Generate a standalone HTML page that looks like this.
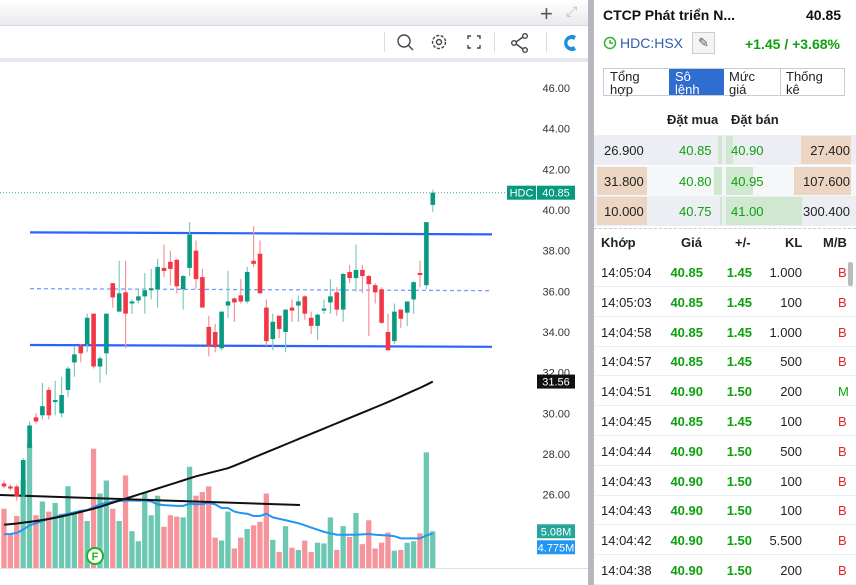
<!DOCTYPE html>
<html><head><meta charset="utf-8">
<style>
*{margin:0;padding:0;box-sizing:border-box}
body{width:856px;height:585px;overflow:hidden;background:#fff;font-family:"Liberation Sans","Noto Sans CJK SC",sans-serif;position:relative}
.a{position:absolute;white-space:nowrap}
.g{color:#0ea10e}
.r{color:#e0262b}
.b{font-weight:bold}
.row{position:absolute;left:594px;width:262px;height:30px;font-size:13px}
.row span{position:absolute;top:8px}
</style></head><body>
<div class="a" style="left:0;top:0;width:588px;height:25px;background:linear-gradient(#fff,#e9eaee)"></div>
<div class="a" style="left:540px;top:1px;font-size:22px;color:#555">+</div>
<div class="a" style="left:566px;top:3px;font-size:14px;color:#bbb">⤢</div>
<div class="a" style="left:0;top:25px;width:588px;height:33px;background:#fff;border-top:1px solid #d8d9de"></div>
<div class="a" style="left:0;top:58px;width:588px;height:4px;background:#e5e7ee"></div>
<div class="a" style="left:384px;top:32px;width:1px;height:20px;background:#ddd"></div>
<div class="a" style="left:494px;top:32px;width:1px;height:20px;background:#ddd"></div>
<div class="a" style="left:546px;top:32px;width:1px;height:20px;background:#ddd"></div>
<svg class="a" style="left:395px;top:31px" width="190" height="24">
<g fill="none" stroke="#444" stroke-width="1.4">
<g><circle cx="9" cy="10" r="6"/><line x1="13" y1="14" x2="18" y2="19"/></g>
<g><circle cx="44" cy="11" r="6.5" stroke-dasharray="3 1.6"/><circle cx="44" cy="11" r="2.5"/></g>
<g><path d="M73 8v-3h3M82 5h3v3M85 14v3h-3M76 17h-3v-3"/></g>
<g><circle cx="119" cy="12" r="2.3"/><circle cx="130" cy="5" r="2.3"/><circle cx="130" cy="19" r="2.3"/><path d="M121 11l7-5M121 13l7 5"/></g>
</g>
<path d="M181 5a8 8 0 1 0 0 14l-2-4a4 4 0 1 1 0-6z" fill="#1a8fe0"/>
</svg>
<div class="a" style="left:588px;top:0;width:6px;height:585px;background:#b5b8c0"></div>

<svg id="chart" class="a" style="left:0;top:62px" width="588" height="523"></svg>

<!-- right panel -->
<div class="a b" style="left:603px;top:7px;font-size:14px;color:#111">CTCP Phát triển N...</div>
<div class="a b" style="left:806px;top:7px;font-size:14px;color:#111">40.85</div>
<svg class="a" style="left:603px;top:36px" width="14" height="14"><circle cx="7" cy="7" r="5.5" fill="none" stroke="#2db52d" stroke-width="1.5"/><path d="M7 4v3h3" stroke="#2db52d" fill="none" stroke-width="1.4"/></svg>
<div class="a" style="left:620px;top:35px;font-size:14px;color:#2e5fae">HDC:HSX</div>
<div class="a" style="left:692px;top:32px;width:23px;height:22px;border:1px solid #ccc;background:#f4f4f4;text-align:center;font-size:13px;color:#555;line-height:20px">✎</div>
<div class="a b g" style="left:745px;top:36px;font-size:14px">+1.45 / +3.68%</div>
<div class="a" style="left:603px;top:68px;width:242px;height:28px;border:1px solid #c9ccd3;font-size:13px;line-height:13px">
<div class="a" style="left:0;top:0;width:65px;height:26px;padding:1px 0 0 6px;color:#222;white-space:normal">Tổng<br>hợp</div>
<div class="a" style="left:65px;top:0;width:55px;height:26px;padding:1px 0 0 6px;background:#2f6dd0;color:#fff">Sô<br>lệnh</div>
<div class="a" style="left:120px;top:0;width:57px;height:26px;padding:1px 0 0 5px;color:#222;border-right:1px solid #c9ccd3">Mức<br>giá</div>
<div class="a" style="left:177px;top:0;width:64px;height:26px;padding:1px 0 0 5px;color:#222">Thống<br>kê</div>
</div>
<div class="a b" style="left:667px;top:112px;font-size:13px;color:#222">Đặt mua</div>
<div class="a b" style="left:731px;top:112px;font-size:13px;color:#222">Đặt bán</div>
<div id="book"></div>
<div class="a" style="left:594px;top:228px;width:262px;border-top:1px dashed #ccc"></div>
<div class="row b" style="top:227px;color:#222"><span style="left:7px">Khớp</span><span style="left:87px">Giá</span><span style="left:141px">+/-</span><span style="left:191px">KL</span><span style="left:229px">M/B</span></div>
<div id="trades"></div>
<div class="a" style="left:848px;top:262px;width:5px;height:24px;background:#bbb;border-radius:2px"></div>

<script>
// ---- chart data ----
const opens  = [26.55,26.4,26.4,25.9,28.3,29.8,29.9,31.15,30.55,30.0,31.15,32.5,33.35,33.4,34.9,32.3,32.95,36.4,35.0,35.95,35.4,35.55,35.75,36.05,36.1,37.15,37.45,37.55,36.1,37.15,38.0,36.7,34.25,34.0,33.2,35.3,35.65,35.8,35.5,37.5,37.85,35.2,33.65,34.8,34.0,35.2,35.3,35.75,34.7,34.3,35.05,35.45,35.95,35.1,36.95,36.65,37.05,36.75,36.3,36.1,34.0,33.55,35.1,34.95,35.6,36.9,36.3,40.25];
const closes = [26.4,26.3,25.9,27.7,29.4,29.6,30.35,29.9,30.65,30.9,32.2,32.9,32.95,34.7,32.3,32.7,34.9,35.7,35.9,34.9,35.5,35.75,36.05,36.15,37.2,37.0,37.1,36.25,36.75,38.8,36.6,35.2,33.3,33.25,35.0,35.5,35.45,35.5,36.95,37.35,35.9,33.55,34.5,34.15,35.1,35.05,35.5,34.9,34.3,34.85,35.15,35.75,35.1,36.85,36.65,37.05,36.75,36.35,35.95,34.45,33.1,35.0,34.65,35.5,36.45,36.8,39.4,40.85];
const highs  = [26.7,26.5,26.5,27.8,29.6,30.0,31.5,31.3,31.6,31.8,32.3,33.3,33.4,34.9,34.9,32.8,34.9,36.4,37.5,37.5,35.6,36.1,36.9,37.1,37.6,38.3,38.0,37.6,36.8,39.4,38.5,37.1,34.8,34.4,35.0,37.0,35.7,36.6,37.2,39.2,38.5,35.6,34.9,34.8,35.1,35.6,35.8,35.8,35.0,34.9,35.6,36.6,36.2,36.9,37.3,38.3,37.3,36.8,36.4,36.2,34.9,35.4,35.1,35.5,36.5,37.5,39.4,41.0];
const lows   = [26.3,26.2,25.7,25.6,28.1,29.5,29.7,29.7,29.9,29.8,30.8,31.8,32.5,33.0,32.2,31.5,31.9,35.2,35.0,33.2,34.9,35.4,34.9,35.6,35.2,36.7,36.3,35.9,35.1,36.75,36.1,35.2,32.8,33.0,33.1,34.7,34.5,35.4,35.4,37.2,35.9,33.3,33.1,33.7,33.0,34.5,34.5,34.6,33.9,33.6,34.9,34.9,34.8,34.5,36.4,36.0,35.9,33.8,35.4,34.4,33.1,33.4,34.2,34.3,34.9,36.2,36.1,39.9];
const volumes = [8.2,4.7,7.2,12.1,17.3,7.3,9.2,7.8,9.0,7.5,11.3,7.5,7.8,6.5,16.5,10.3,12.1,8.2,6.5,12.8,5.1,3.7,10.5,7.3,10.0,5.7,7.3,7.1,7.0,14.0,10.0,10.5,11.3,4.2,3.8,7.8,2.7,4.2,5.4,5.9,6.4,10.3,3.9,2.2,5.8,2.8,2.5,3.8,2.2,3.5,3.4,7.0,2.5,5.8,4.3,7.6,3.3,6.6,2.7,3.5,4.9,2.4,2.5,3.5,3.7,4.8,16.0,5.08];
const volMA = [4.67,4.7,4.85,5.3,5.9,6.2,6.5,6.8,7.05,7.3,7.5,7.7,7.9,8.0,8.4,8.8,9.0,9.2,9.3,9.3,9.35,9.3,9.35,9.2,8.8,8.7,8.65,8.6,8.6,8.9,8.8,8.85,9.0,8.8,8.3,8.3,7.8,7.6,7.5,7.2,7.2,7.5,7.0,6.8,6.6,6.4,6.2,5.9,5.6,5.3,5.0,4.8,4.6,4.6,4.6,4.6,4.65,4.7,4.6,4.55,4.5,4.4,4.1,4.1,4.1,4.1,4.5,4.775];
const priceMA = [24.52,24.55,24.58,24.62,24.66,24.7,24.75,24.8,24.86,24.93,25.0,25.07,25.15,25.23,25.31,25.4,25.5,25.6,25.7,25.8,25.9,26.0,26.1,26.2,26.3,26.4,26.5,26.6,26.7,26.8,26.9,26.98,27.06,27.14,27.22,27.3,27.42,27.55,27.68,27.82,27.95,28.08,28.21,28.34,28.47,28.6,28.73,28.86,28.99,29.12,29.25,29.38,29.51,29.64,29.77,29.9,30.03,30.16,30.29,30.42,30.55,30.69,30.83,30.97,31.11,31.25,31.4,31.56];
const priceTicks = [46,44,42,40,38,36,34,32,30,28,26];
const channelTop = [38.9,38.8], channelMid=[36.13,36.03], channelBot=[33.36,33.27];
const trendLine = [25.98,25.49];
const lastPrice = 40.85, maLast = 31.56, volLast = 5.08, volMALast = 4.775;

const NS="http://www.w3.org/2000/svg", svg=document.getElementById('chart');
const OY=62;
const yP = p => 88 + (46-p)*20.33 - OY;
const xS = i => 4 + i*6.4;
const VB = 568 - OY, VK = 7.23; // px per M
const yV = v => VB - v*VK;
function mk(tag, attrs){const e=document.createElementNS(NS,tag);for(const k in attrs)e.setAttribute(k,attrs[k]);svg.appendChild(e);return e;}

// volume bars
volumes.forEach((v,i)=>{
  const up = closes[i]>=opens[i];
  const e=mk('rect',{x:xS(i)-2.7,y:yV(v),width:5.3,height:v*VK,fill:up?'#6cc8b3':'#f7939a'});
  
  
});
// volume MA
let d=volMA.map((v,i)=>(i?'L':'M')+xS(i)+' '+yV(v)).join('');
let vm=mk('path',{d:d,fill:'none',stroke:'#2196f3','stroke-width':2});


// price MA
d=priceMA.map((v,i)=>(i?'L':'M')+xS(i)+' '+yP(v)).join('');
let pm=mk('path',{d:d,fill:'none',stroke:'#111','stroke-width':2});


// trend line
let tl=mk('line',{x1:0,y1:yP(trendLine[0]),x2:300,y2:yP(trendLine[1]),stroke:'#111','stroke-width':2});


// channel
[[channelTop,'channel-top',''],[channelMid,'channel-mid','4 3'],[channelBot,'channel-bottom','']].forEach(c=>{
  const l=mk('line',{x1:30,y1:yP(c[0][0]),x2:492,y2:yP(c[0][1]),stroke:c[2]?'#7b9cff':'#2962ff','stroke-width':c[2]?1.3:2.2,'stroke-dasharray':c[2]});
  
  
});
// last price dotted line
let lp=mk('line',{x1:0,y1:yP(lastPrice),x2:505,y2:yP(lastPrice),stroke:'#3aa88c','stroke-width':1,'stroke-dasharray':'1 2'});


// candles
opens.forEach((o,i)=>{
  const c=closes[i], up=c>=o, col=up?'#089981':'#f23645', wc=up?'#7fcbb8':'#f7939a';
  const w=mk('line',{x1:xS(i),x2:xS(i),y1:yP(highs[i]),y2:yP(lows[i]),stroke:wc,'stroke-width':1.2});
  
  
  const top=yP(Math.max(o,c)), h=Math.max(1.5,Math.abs(yP(o)-yP(c)));
  const b=mk('rect',{x:xS(i)-2.3,y:top,width:4.6,height:h,fill:col});
  
  
});
// axis ticks
priceTicks.forEach(t=>{
  const e=mk('text',{x:570,y:yP(t)+4,'text-anchor':'end','font-size':11,fill:'#333','font-family':'Liberation Sans'});
  e.textContent=t.toFixed(2);
  
  
});
function tag(x,y,w,txt,bg,name){
  const r=mk('rect',{x:x,y:y-7,width:w,height:14,fill:bg});
  
  
  const t=mk('text',{x:x+w/2,y:y+4,'text-anchor':'middle','font-size':11,fill:'#fff','font-family':'Liberation Sans'});
  t.textContent=txt;
  
  
}
tag(507,yP(lastPrice),29,'HDC','#089981','symbol-tag');
tag(537,yP(lastPrice),38,lastPrice.toFixed(2),'#089981','last-price-tag');
tag(537,yP(maLast),38,maLast.toFixed(2),'#111','ma-value-tag');
tag(537,yV(volLast),38,volLast+'M','#26a69a','volume-tag');
tag(537,yV(volLast)+16,38,volMALast+'M','#2196f3','volume-ma-tag');
// F marker
let fc=mk('circle',{cx:95,cy:556-OY,r:8,fill:'#fff',stroke:'#22b522','stroke-width':2});


let ft=mk('text',{x:95,y:560-OY,'text-anchor':'middle','font-size':11,'font-weight':'bold',fill:'#22b522','font-family':'Liberation Sans'});
ft.textContent='F';


let bl=mk('line',{x1:0,x2:588,y1:VB+0.5,y2:VB+0.5,stroke:'#dde0e8'});



// ---- order book ----
const book=[
 ['26.900','40.85','40.90','27.400',0,4,7,50],
 ['31.800','40.80','40.95','107.600',50,8,27,57],
 ['10.000','40.75','41.00','300.400',50,2,76,0]
];
const bk=document.getElementById('book');
book.forEach((r,i)=>{
  const top=135+i*30.5, bg=i%2?'#f6f7f9':'#eceef3';
  const row=document.createElement('div');
  row.className='row';
  
  
  row.style.top=top+'px';row.style.height='30px';row.style.background=bg;
  row.innerHTML=
   (r[4]?`<div class="a" style="left:3px;top:1px;width:${r[4]}px;height:28px;background:#ecd6c3"></div>`:'')+
   `<div class="a" style="left:${128-r[5]}px;top:1px;width:${r[5]}px;height:28px;background:#cfe8cf"></div>`+
   `<div class="a" style="left:132px;top:1px;width:${r[6]}px;height:28px;background:#cfe8cf"></div>`+
   (r[7]?`<div class="a" style="left:${257-r[7]}px;top:1px;width:${r[7]}px;height:28px;background:#ecd6c3"></div>`:'')+
   `<span style="left:10px;color:#222">${r[0]}</span><span class="g" style="left:85px">${r[1]}</span><span class="g" style="left:137px">${r[2]}</span><span style="right:6px;color:#222">${r[3]}</span>`;
  bk.appendChild(row);
});
// ---- trades ----
const trades=[
 ['14:05:04','40.85','1.45','1.000','B'],['14:05:03','40.85','1.45','100','B'],['14:04:58','40.85','1.45','1.000','B'],
 ['14:04:57','40.85','1.45','500','B'],['14:04:51','40.90','1.50','200','M'],['14:04:45','40.85','1.45','100','B'],
 ['14:04:44','40.90','1.50','500','B'],['14:04:43','40.90','1.50','100','B'],['14:04:43','40.90','1.50','100','B'],
 ['14:04:42','40.90','1.50','5.500','B'],['14:04:38','40.90','1.50','200','B']];
const tr=document.getElementById('trades');
trades.forEach((t,i)=>{
  const row=document.createElement('div');
  row.className='row';
  
  
  row.style.top=(257+i*29.8)+'px';
  row.style.borderBottom='1px solid #eceef2';
  row.innerHTML=`<span style="left:7px;color:#222">${t[0]}</span><span class="g b" style="right:153px">${t[1]}</span><span class="g b" style="right:104px">${t[2]}</span><span style="right:54px;color:#222">${t[3]}</span><span class="${t[4]=='M'?'g':'r'}" style="left:244px">${t[4]}</span>`;
  tr.appendChild(row);
});
</script>
</body></html>
